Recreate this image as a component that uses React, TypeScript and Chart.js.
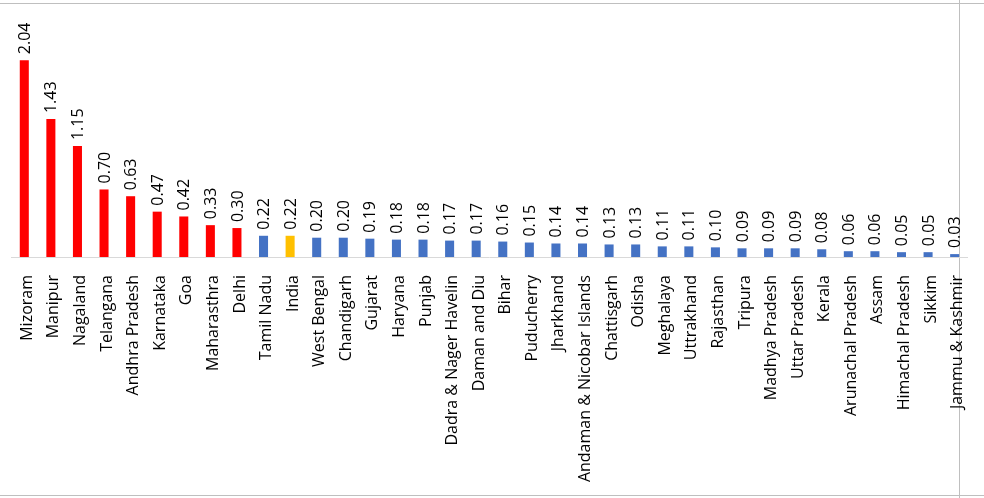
import React, { useEffect, useRef } from "react";
import { Chart, registerables } from "chart.js";

Chart.register(...registerables);

const categories = [
  "Mizoram", "Manipur", "Nagaland", "Telangana", "Andhra Pradesh", "Karnataka", "Goa",
  "Maharasthra", "Delhi", "Tamil Nadu", "India", "West Bengal", "Chandigarh", "Gujarat",
  "Haryana", "Punjab", "Dadra & Nager Havelin", "Daman and Diu", "Bihar", "Puducherry",
  "Jharkhand", "Andaman & Nicobar Islands", "Chattisgarh", "Odisha", "Meghalaya",
  "Uttrakhand", "Rajasthan", "Tripura", "Madhya Pradesh", "Uttar Pradesh", "Kerala",
  "Arunachal Pradesh", "Assam", "Himachal Pradesh", "Sikkim", "Jammu & Kashmir",
];

const values = [
  2.04, 1.43, 1.15, 0.70, 0.63, 0.47, 0.42, 0.33, 0.30, 0.22, 0.22, 0.20, 0.20, 0.19,
  0.18, 0.18, 0.17, 0.17, 0.16, 0.15, 0.14, 0.14, 0.13, 0.13, 0.11, 0.11, 0.10, 0.09,
  0.09, 0.09, 0.08, 0.06, 0.06, 0.05, 0.05, 0.03,
];

const highGroup = ["Mizoram", "Manipur", "Nagaland", "Telangana", "Andhra Pradesh", "Karnataka", "Goa", "Maharasthra", "Delhi"];
const nationalGroup = ["India"];

const RED = "#FF0000";
const BLUE = "#4472C4";
const GOLD = "#FFC000";
const FONT = "'Open Sans', 'DejaVu Sans', sans-serif";

const barColors = categories.map((c) =>
  highGroup.includes(c) ? RED : nationalGroup.includes(c) ? GOLD : BLUE
);

const framePlugin = {
  id: "frame",
  beforeDraw(chart: any) {
    const ctx = chart.ctx;
    ctx.save();
    ctx.strokeStyle = "#BFBFBF";
    ctx.lineWidth = 1;
    ctx.beginPath();
    ctx.moveTo(0, 3.5);
    ctx.lineTo(chart.width, 3.5);
    ctx.moveTo(0, 495.5);
    ctx.lineTo(chart.width, 495.5);
    ctx.moveTo(959.5, 0);
    ctx.lineTo(959.5, chart.height);
    ctx.stroke();
    ctx.restore();
  },
};

const valueLabelPlugin = {
  id: "valueLabels",
  afterDatasetsDraw(chart: any) {
    const ctx = chart.ctx;
    const meta = chart.getDatasetMeta(0);
    const data = chart.data.datasets[0].data as number[];
    ctx.save();
    ctx.fillStyle = "#000000";
    ctx.font = `16px ${FONT}`;
    ctx.textAlign = "left";
    ctx.textBaseline = "middle";
    meta.data.forEach((bar: any, i: number) => {
      ctx.save();
      ctx.translate(bar.x + 1, bar.y - 6);
      ctx.rotate(-Math.PI / 2);
      ctx.fillText(data[i].toFixed(2), 0, 0);
      ctx.restore();
    });
    ctx.restore();
  },
};

export default function App() {
  const canvasRef = useRef<HTMLCanvasElement | null>(null);

  useEffect(() => {
    if (!canvasRef.current) return;
    const chart = new Chart(canvasRef.current, {
      type: "bar",
      data: {
        labels: categories,
        datasets: [
          {
            data: values,
            backgroundColor: barColors,
            borderWidth: 0,
            barPercentage: 0.34,
            categoryPercentage: 1,
          },
        ],
      },
      options: {
        animation: false,
        responsive: false,
        layout: { padding: { left: 11, right: 10, top: 10, bottom: 0 } },
        plugins: {
          legend: { display: false },
          tooltip: { enabled: false },
          title: { display: false },
        },
        scales: {
          x: {
            grid: { display: false },
            border: { display: true, color: "#D9D9D9", width: 1 },
            ticks: {
              autoSkip: false,
              minRotation: 90,
              maxRotation: 90,
              padding: 10,
              labelOffset: 3,
              color: "#000000",
              font: { family: FONT, size: 16 },
            },
            afterFit: (scale: any) => {
              scale.height = 241;
            },
          },
          y: {
            display: false,
            min: 0,
            max: 2.56,
          },
        },
      },
      plugins: [framePlugin, valueLabelPlugin],
    });
    return () => chart.destroy();
  }, []);

  return (
    <div style={{ position: "absolute", left: 0, top: 0, width: 984, height: 498, background: "#fff" }}>
      <canvas ref={canvasRef} width={984} height={498} style={{ display: "block" }} />
    </div>
  );
}
